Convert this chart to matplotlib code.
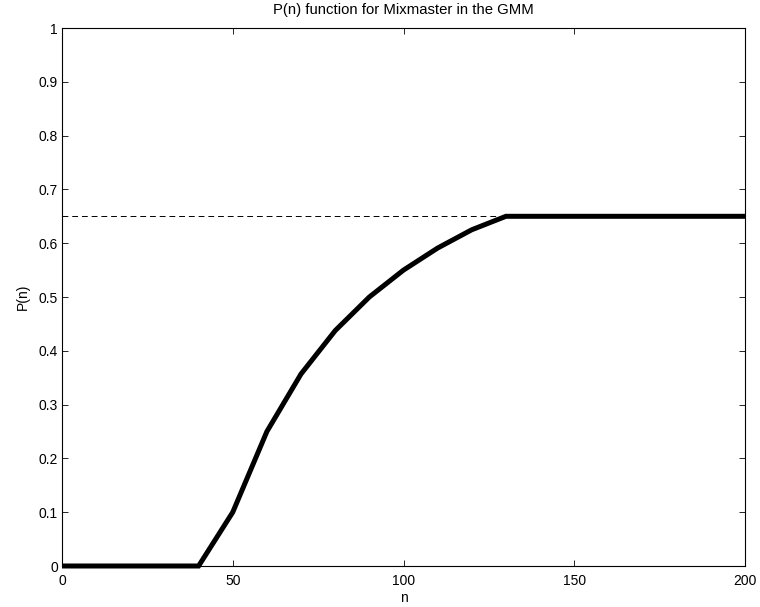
import matplotlib
matplotlib.use('Agg')
import matplotlib.pyplot as plt

plt.rcParams['font.family'] = ['Liberation Sans', 'DejaVu Sans']
plt.rcParams['font.size'] = 10

# P(n), one point every 10
n_vals = [0, 10, 20, 30, 40, 50, 60, 70, 80, 90, 100, 110, 120, 130,
          140, 150, 160, 170, 180, 190, 200]
p_vals = [0, 0, 0, 0, 0, 0.1, 0.25, 0.357, 0.4375, 0.5, 0.55, 0.591, 0.625, 0.65,
          0.65, 0.65, 0.65, 0.65, 0.65, 0.65, 0.65]

# dashed reference level
cap_n = [0, 130]
cap_p = [0.65, 0.65]

x_ticks = [0, 50, 100, 150, 200]
y_ticks = [0, 0.1, 0.2, 0.3, 0.4, 0.5, 0.6, 0.7, 0.8, 0.9, 1]
y_labels = ['0', '0.1', '0.2', '0.3', '0.4', '0.5', '0.6', '0.7', '0.8', '0.9', '1']

fig = plt.figure(figsize=(7.6, 6.07), dpi=100)
ax = fig.add_axes([62 / 760, 41 / 607, 683 / 760, 538 / 607])

ax.plot(cap_n, cap_p, color='black', linestyle=(0, (6, 4)), linewidth=0.7)
ax.plot(n_vals, p_vals, color='black', linewidth=3.6, solid_joinstyle='miter',
        solid_capstyle='butt', clip_on=False)

ax.set_xlim(0, 200)
ax.set_ylim(0, 1)
ax.set_xticks(x_ticks)
ax.set_xticklabels([str(t) for t in x_ticks])
ax.set_yticks(y_ticks)
ax.set_yticklabels(y_labels)
ax.tick_params(axis='both', direction='in', length=4.5, width=0.6, top=True, right=True)
ax.tick_params(axis='x', pad=6)
ax.tick_params(axis='y', pad=3)
for s in ax.spines.values():
    s.set_linewidth(0.8)

ax.set_title('P(n) function for Mixmaster in the GMM', fontsize=10.7, pad=10)
ax.set_xlabel('n', labelpad=2)
ax.set_ylabel('P(n)', labelpad=6)

fig.savefig('out.png', dpi=100)
